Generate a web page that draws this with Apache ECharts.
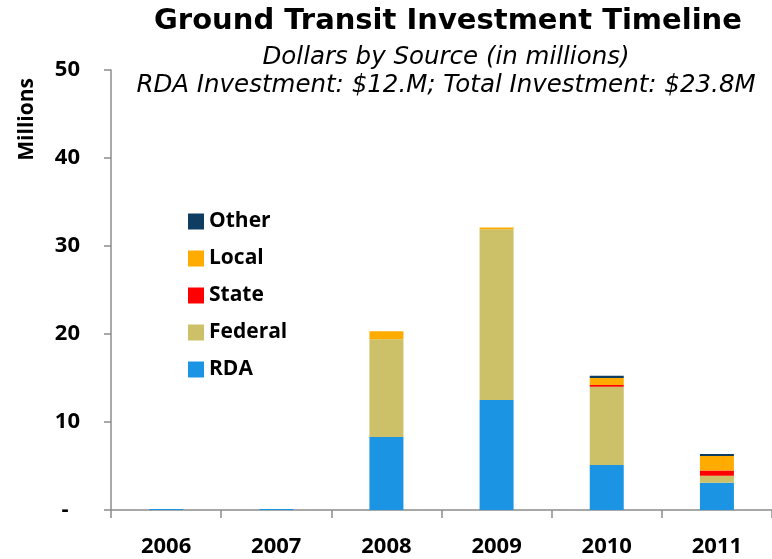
<!DOCTYPE html>
<html lang="en">
<head>
    <meta charset="UTF-8">
    <title>Ground Transit Investment Timeline</title>
    <style>
        html, body { margin: 0; padding: 0; width: 100%; height: 100%; background: #fff; }
    </style>
</head>
<body>
    <div id="main" style="width: 772px;height:559px;"></div>
    <script src="https://cdn.jsdelivr.net/npm/echarts@6/dist/echarts.min.js"></script>
    <script type="text/javascript">
        var years = ['2006', '2007', '2008', '2009', '2010', '2011'];
        var rda = [0.1, 0.1, 8.3, 12.5, 5.1, 3.1];
        var federal = [0, 0, 11.1, 19.4, 8.9, 0.8];
        var state = [0, 0, 0, 0, 0.2, 0.6];
        var local = [0, 0, 0.9, 0.2, 0.8, 1.65];
        var other = [0, 0, 0, 0, 0.25, 0.2];
        var yTicks = [0, 10, 20, 30, 40, 50];

        var labelFont = '"Open Sans", Lato, sans-serif';
        var myChart = echarts.init(document.getElementById('main'));

        function bar(name, data, color) {
            return {
                name: name,
                type: 'bar',
                stack: 'total',
                barWidth: 34,
                data: data,
                itemStyle: { color: color },
                emphasis: { disabled: true }
            };
        }

        var option = {
            backgroundColor: '#fff',
            animation: false,
            title: [{
                text: 'Ground Transit Investment Timeline',
                left: 443,
                top: 2,
                textAlign: 'center',
                textStyle: { fontFamily: 'DejaVu Sans', fontWeight: 'bold', fontSize: 29, color: '#000' }
            }, {
                text: 'Dollars by Source (in millions)\nRDA Investment: $12.M; Total Investment: $23.8M',
                left: 441,
                top: 38,
                textAlign: 'center',
                textStyle: { fontFamily: 'DejaVu Sans', fontStyle: 'italic', fontWeight: 'normal', fontSize: 24.5, lineHeight: 28.5, color: '#000' }
            }],
            graphic: [{
                type: 'text',
                left: 17,
                top: 78,
                rotation: Math.PI / 2,
                style: { text: 'Millions', font: 'bold 21px ' + labelFont, fill: '#000' }
            }],
            legend: {
                orient: 'vertical',
                left: 183,
                top: 206,
                itemWidth: 16,
                itemHeight: 16,
                itemGap: 16,
                icon: 'rect',
                data: ['Other', 'Local', 'State', 'Federal', 'RDA'],
                textStyle: { fontFamily: labelFont, fontWeight: 'bold', fontSize: 21, color: '#000' }
            },
            grid: { left: 111, right: -3, top: 70, bottom: 49 },
            xAxis: {
                type: 'category',
                data: years,
                axisLine: { lineStyle: { color: '#8c8c8c', width: 1.5 } },
                axisTick: { show: true, length: 8, lineStyle: { color: '#8c8c8c', width: 1.5 } },
                axisLabel: { fontFamily: labelFont, fontWeight: 'bold', fontSize: 22, color: '#000', margin: 26 }
            },
            yAxis: {
                type: 'value',
                min: 0,
                max: 50,
                interval: 10,
                axisLine: { show: true, lineStyle: { color: '#8c8c8c', width: 1.5 } },
                axisTick: { show: true, length: 7, lineStyle: { color: '#8c8c8c', width: 1.5 } },
                splitLine: { show: false },
                axisLabel: {
                    fontFamily: labelFont, fontWeight: 'bold', fontSize: 22, color: '#000', margin: 31,
                    formatter: function (v) { return v === yTicks[0] ? '-  ' : String(v); }
                }
            },
            series: [
                bar('RDA', rda, '#1c94e4'),
                bar('Federal', federal, '#ccc068'),
                bar('State', state, '#ff0000'),
                bar('Local', local, '#ffab00'),
                bar('Other', other, '#0f3d62')
            ]
        };
        myChart.setOption(option);
        window.addEventListener("resize", function () {
            myChart.resize();
        });
    </script>
</body>
</html>
